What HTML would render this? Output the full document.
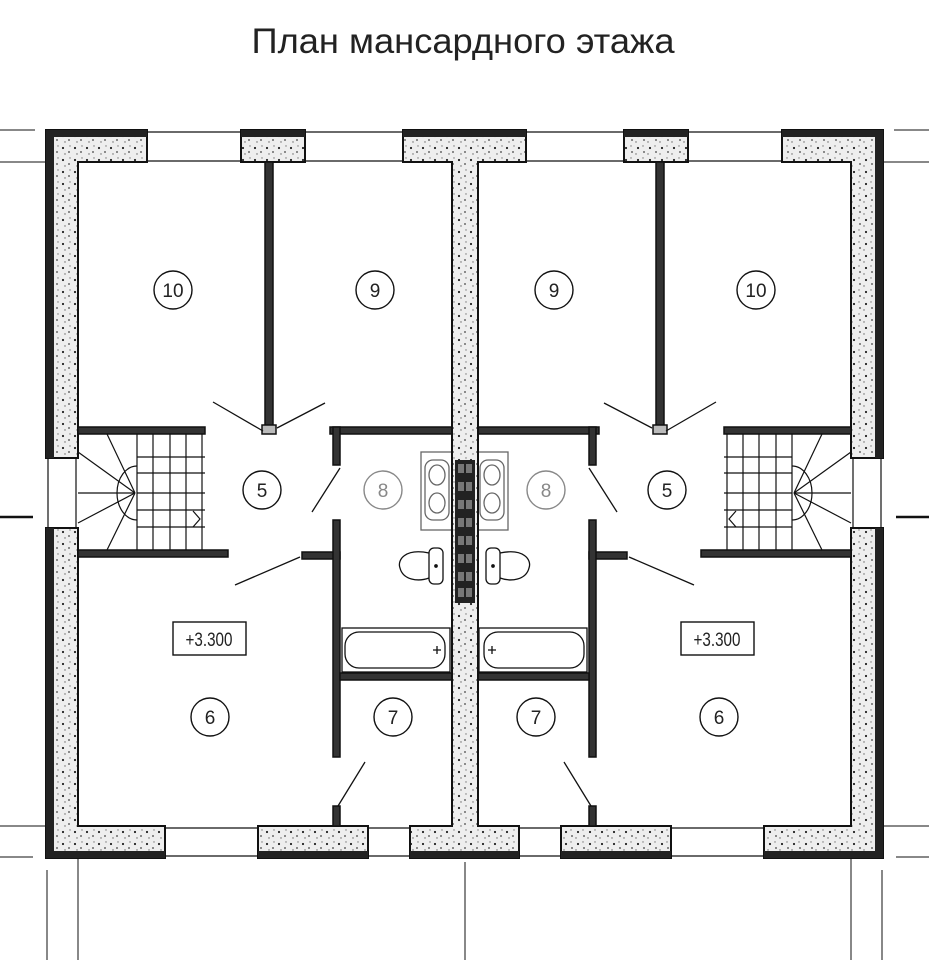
<!DOCTYPE html>
<html><head><meta charset="utf-8"><style>
html,body{margin:0;padding:0;background:#fff;}
svg{display:block}
</style></head><body>
<svg width="937" height="960" viewBox="0 0 937 960" xmlns="http://www.w3.org/2000/svg" font-family="Liberation Sans, sans-serif">
<defs>
<pattern id="spk" width="12" height="12" patternUnits="userSpaceOnUse">
<rect width="12" height="12" fill="#eee"/>
<circle cx="3" cy="4" r="1.1" fill="#222"/><circle cx="9" cy="8" r="0.9" fill="#444"/><circle cx="5" cy="10" r="0.7" fill="#666"/><circle cx="10" cy="2" r="0.7" fill="#777"/>
</pattern>
<g id="half" stroke="#111" fill="none">
<g fill="url(#spk)" stroke="#111" stroke-width="2">
<path d="M46 130 H147 V162 H78 V458 H46 Z"/>
<rect x="241" y="130" width="64" height="32"/>
<path d="M46 528 H78 V826 H165 V858 H46 Z"/>
<rect x="258" y="826" width="110" height="32"/>
</g>
<g fill="#222" stroke="none">
<rect x="46" y="130" width="101" height="7"/>
<rect x="46" y="130" width="8" height="328"/>
<rect x="241" y="130" width="64" height="7"/>
<rect x="46" y="528" width="8" height="330"/>
<rect x="46" y="851" width="119" height="7"/>
<rect x="258" y="851" width="110" height="7"/>
</g>
<g stroke-width="1.2">
<line x1="147" y1="132" x2="241" y2="132"/><line x1="147" y1="161" x2="241" y2="161"/>
<line x1="305" y1="132" x2="403" y2="132"/><line x1="305" y1="161" x2="403" y2="161"/>
<line x1="48" y1="458" x2="48" y2="528"/><line x1="76" y1="458" x2="76" y2="528"/>
<line x1="165" y1="828" x2="258" y2="828"/><line x1="165" y1="856" x2="258" y2="856"/>
<line x1="368" y1="828" x2="410" y2="828"/><line x1="368" y1="856" x2="410" y2="856"/>
</g>
<g fill="#333" stroke="#111" stroke-width="1.5">
<rect x="265" y="162" width="8" height="271"/>
<rect x="262" y="425" width="14" height="9" fill="#bbb"/>
<rect x="78" y="427" width="127" height="7"/>
<rect x="330" y="427" width="122" height="7"/>
<rect x="333" y="427" width="7" height="38"/>
<rect x="78" y="550" width="150" height="7"/>
<rect x="302" y="552" width="38" height="7"/>
<rect x="333" y="520" width="7" height="237"/>
<rect x="333" y="806" width="7" height="20"/>
<rect x="340" y="673" width="112" height="7"/>
</g>
<g stroke-width="1.2">
<line x1="137" y1="434" x2="137" y2="550"/><line x1="153" y1="434" x2="153" y2="550"/>
<line x1="170" y1="434" x2="170" y2="550"/><line x1="186" y1="434" x2="186" y2="550"/>
<line x1="202" y1="434" x2="202" y2="550"/>
<line x1="137" y1="457" x2="205" y2="457"/><line x1="137" y1="473" x2="205" y2="473"/>
<line x1="137" y1="493" x2="205" y2="493"/><line x1="137" y1="510" x2="205" y2="510"/>
<line x1="137" y1="527" x2="205" y2="527"/>
<path d="M137 466 A20 27 0 0 0 137 520"/>
<line x1="135" y1="493" x2="107" y2="434"/><line x1="135" y1="493" x2="78" y2="452"/>
<line x1="135" y1="493" x2="78" y2="493"/><line x1="135" y1="493" x2="78" y2="523"/>
<line x1="135" y1="493" x2="107" y2="550"/>
<path d="M193 511 L200 519 L193 527"/>
</g>
<g stroke-width="1.3">
<line x1="213" y1="402" x2="263" y2="431"/><line x1="325" y1="403" x2="277" y2="428"/>
<line x1="340" y1="468" x2="312" y2="512"/>
<line x1="300" y1="557" x2="235" y2="585"/>
<line x1="365" y1="762" x2="338" y2="806"/>
</g>
<g stroke="#666" stroke-width="1.3">
<rect x="421" y="452" width="31" height="78"/>
<rect x="425" y="460" width="24" height="60" rx="8"/>
<ellipse cx="437" cy="475" rx="8" ry="10"/><ellipse cx="437" cy="503" rx="8" ry="10"/>
</g>
<g stroke-width="1.3">
<rect x="429" y="548" width="14" height="36" rx="5"/>
<path d="M429 553 C405 548 397 560 400 568 C403 580 418 582 429 578"/>
<circle cx="436" cy="566" r="1.2" fill="#111"/>
</g>
<g stroke-width="1.3">
<rect x="342" y="628" width="108" height="44"/>
<rect x="345" y="632" width="100" height="36" rx="14"/>
<path d="M433 650 h8 M437 646 v8"/>
</g>
<g stroke-width="1">
<line x1="0" y1="130" x2="35" y2="130"/><line x1="0" y1="162" x2="46" y2="162"/>
<line x1="0" y1="826" x2="46" y2="826"/><line x1="0" y1="857" x2="33" y2="857"/>
<line x1="47" y1="870" x2="47" y2="960"/><line x1="78" y1="858" x2="78" y2="960"/>
</g>
<line x1="0" y1="517" x2="33" y2="517" stroke-width="2.5"/>
</g>
</defs>
<text x="463" y="53" font-size="35" text-anchor="middle" fill="#222" textLength="423" lengthAdjust="spacingAndGlyphs">План мансардного этажа</text>
<use href="#half"/>
<use href="#half" transform="matrix(-1 0 0 1 929 0)"/>
<g fill="url(#spk)" stroke="#111" stroke-width="2">
<path d="M403 130 H526 V162 H478 V826 H519 V858 H410 V826 H452 V162 H403 Z"/>
</g>
<g fill="#222">
<rect x="403" y="130" width="123" height="7"/>
<rect x="410" y="851" width="109" height="7"/>
<rect x="455" y="460" width="20" height="143"/>
</g>
<g fill="#777">
<rect x="458" y="464" width="6" height="9"/><rect x="466" y="464" width="6" height="9"/>
<rect x="458" y="482" width="6" height="9"/><rect x="466" y="482" width="6" height="9"/>
<rect x="458" y="500" width="6" height="9"/><rect x="466" y="500" width="6" height="9"/>
<rect x="458" y="518" width="6" height="9"/><rect x="466" y="518" width="6" height="9"/>
<rect x="458" y="536" width="6" height="9"/><rect x="466" y="536" width="6" height="9"/>
<rect x="458" y="554" width="6" height="9"/><rect x="466" y="554" width="6" height="9"/>
<rect x="458" y="572" width="6" height="9"/><rect x="466" y="572" width="6" height="9"/>
<rect x="458" y="588" width="6" height="9"/><rect x="466" y="588" width="6" height="9"/>
</g>
<line x1="465" y1="862" x2="465" y2="960" stroke="#111" stroke-width="1"/>
<g fill="none" stroke="#111" stroke-width="1.4">
<circle cx="173" cy="290" r="19"/><circle cx="375" cy="290" r="19"/>
<circle cx="262" cy="490" r="19"/><circle cx="383" cy="490" r="19" stroke="#888"/>
<circle cx="210" cy="717" r="19"/><circle cx="393" cy="717" r="19"/>
<circle cx="756" cy="290" r="19"/><circle cx="554" cy="290" r="19"/>
<circle cx="667" cy="490" r="19"/><circle cx="546" cy="490" r="19" stroke="#888"/>
<circle cx="719" cy="717" r="19"/><circle cx="536" cy="717" r="19"/>
<rect x="173" y="622" width="73" height="33"/><rect x="681" y="622" width="73" height="33"/>
</g>
<g font-size="19" text-anchor="middle" fill="#222">
<text x="173" y="297">10</text><text x="375" y="297">9</text>
<text x="262" y="497">5</text><text x="383" y="497" fill="#888">8</text>
<text x="210" y="724">6</text><text x="393" y="724">7</text>
<text x="756" y="297">10</text><text x="554" y="297">9</text>
<text x="667" y="497">5</text><text x="546" y="497" fill="#888">8</text>
<text x="719" y="724">6</text><text x="536" y="724">7</text>
<text x="209" y="646" transform="translate(209 0) scale(0.8 1) translate(-209 0)">+3.300</text>
<text x="717" y="646" transform="translate(717 0) scale(0.8 1) translate(-717 0)">+3.300</text>
</g>
</svg>
</body></html>
